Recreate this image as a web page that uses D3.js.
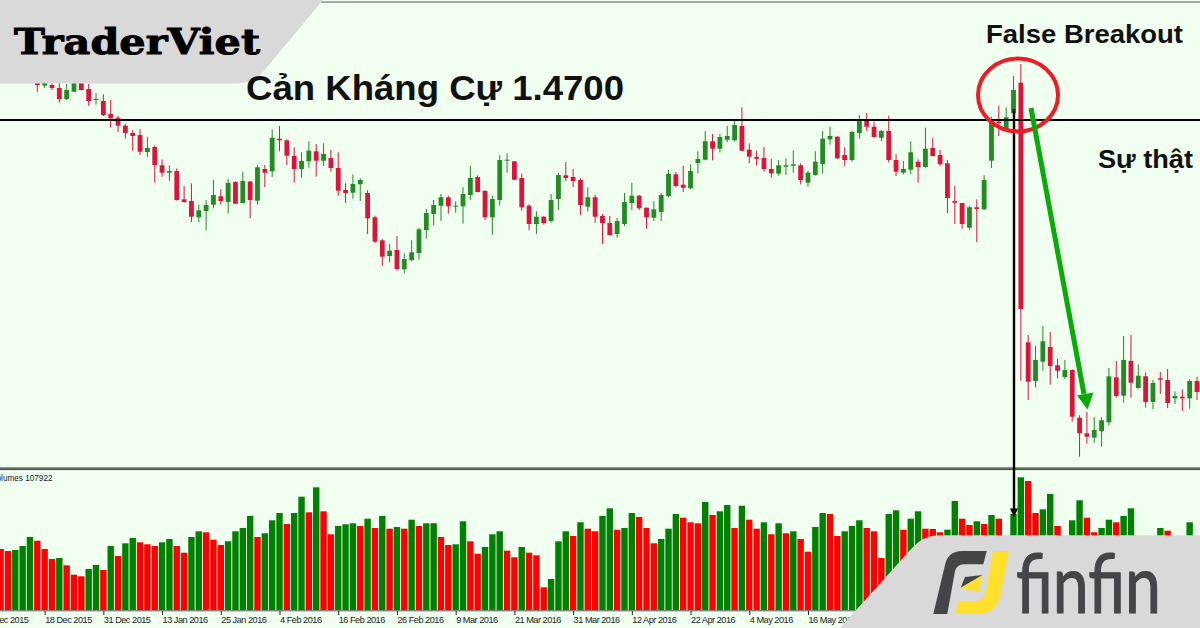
<!DOCTYPE html>
<html>
  <head>
    <meta charset="utf-8" />
    <script src="https://d3js.org/d3.v7.min.js"></script>
    <title>False Breakout</title>
    <style>
      html, body { margin: 0; padding: 0; background: #f0fff0; overflow: hidden; }
      svg { display: block; }
      text { font-family: "Liberation Sans", sans-serif; }
    </style>
  </head>

  <body>
    <svg id="chart" width="1200" height="628"></svg>

    <script>
      // candle prices, oldest first
      const highs = [
        1.510,1.510,1.507,1.507,1.506,1.510,1.510,1.506,1.4967,1.4957,
        1.490,1.474,1.466,1.460,1.4607,1.4533,1.4447,1.4303,1.4247,1.4217,
        1.404,1.4067,1.3853,1.390,1.410,1.4007,1.411,1.4087,1.4183,1.409,
        1.4247,1.425,1.4607,1.464,1.4507,1.4427,1.4377,1.4487,1.446,1.4467,
        1.4403,1.4377,1.4067,1.4157,1.4117,1.3997,1.3743,1.351,1.346,1.354,
        1.3367,1.3497,1.362,1.381,1.390,1.396,1.3943,1.3887,1.4027,1.424,
        1.4147,1.400,1.3943,1.4347,1.4367,1.4287,1.4163,1.3857,1.3787,1.374,
        1.396,1.4173,1.428,1.421,1.4117,1.4027,1.395,1.376,1.374,1.372,
        1.397,1.4073,1.395,1.3827,1.3887,1.397,1.420,1.418,1.424,1.4257,
        1.4387,1.459,1.456,1.456,1.464,1.469,1.4827,1.4467,1.4393,1.443,
        1.431,1.430,1.4317,1.4397,1.4267,1.419,1.4387,1.459,1.4633,1.4537,
        1.4427,1.4593,1.475,1.477,1.4683,1.460,1.4743,1.4357,1.429,1.4487,
        1.4307,1.4623,1.4523,1.440,1.430,1.4043,1.387,1.3843,1.3907,1.4147,
        1.4733,1.4843,1.4827,1.514,1.526,1.255,1.244,1.264,1.258,1.231,
        1.230,1.2207,1.1747,1.178,1.173,1.173,1.222,1.229,1.254,1.255,
        1.2257,1.2177,1.210,1.218,1.221,1.1987,1.2007,1.2107,1.2133
      ];
      const opens = [
        1.508,1.5045,1.505,1.502,1.491,1.4983,1.508,1.501,1.490,1.489,
        1.476,1.4723,1.4643,1.457,1.455,1.438,1.443,1.4247,1.4173,1.419,
        1.3907,1.389,1.3727,1.379,1.3853,1.3937,1.388,1.408,1.387,1.4085,
        1.3893,1.421,1.4187,1.4513,1.4497,1.434,1.421,1.4287,1.4387,1.4293,
        1.432,1.422,1.400,1.3973,1.4057,1.397,1.3727,1.3497,1.334,1.340,
        1.3207,1.330,1.337,1.360,1.376,1.3843,1.3927,1.3837,1.3837,1.395,
        1.413,1.399,1.3727,1.390,1.4293,1.4287,1.412,1.3843,1.366,1.3733,
        1.369,1.391,1.4147,1.413,1.410,1.3833,1.3927,1.374,1.367,1.356,
        1.366,1.387,1.3943,1.3823,1.3723,1.378,1.394,1.4157,1.4053,1.4017,
        1.427,1.4303,1.4487,1.4413,1.4503,1.4497,1.464,1.4403,1.433,1.432,
        1.421,1.4163,1.4233,1.4243,1.4247,1.4073,1.415,1.426,1.4507,1.4533,
        1.435,1.430,1.457,1.4697,1.4633,1.4523,1.459,1.430,1.4173,1.4203,
        1.4283,1.423,1.442,1.435,1.4267,1.389,1.387,1.3623,1.3827,1.3807,
        1.4293,1.4685,1.460,1.4767,1.5073,1.2477,1.209,1.2283,1.243,1.2247,
        1.213,1.220,1.1723,1.1567,1.1523,1.1587,1.1677,1.2127,1.1943,1.229,
        1.202,1.2137,1.188,1.2117,1.210,1.1917,1.1933,1.1917,1.209
      ];
      const closes = [
        1.505,1.508,1.502,1.491,1.500,1.508,1.500,1.489,1.491,1.475,
        1.4717,1.4643,1.457,1.454,1.4383,1.442,1.425,1.4173,1.419,1.390,
        1.388,1.3733,1.3797,1.385,1.395,1.389,1.407,1.3863,1.409,1.390,
        1.4227,1.4173,1.4523,1.4497,1.4343,1.421,1.429,1.4393,1.4293,1.436,
        1.422,1.3993,1.397,1.406,1.410,1.3717,1.3483,1.3333,1.3393,1.321,
        1.331,1.3377,1.3607,1.377,1.385,1.3927,1.3837,1.3843,1.396,1.412,
        1.398,1.3727,1.391,1.430,1.4303,1.4103,1.3827,1.366,1.3733,1.367,
        1.390,1.415,1.412,1.409,1.385,1.3927,1.3733,1.367,1.355,1.369,
        1.388,1.3943,1.3817,1.3727,1.3807,1.395,1.4163,1.404,1.4023,1.419,
        1.431,1.4487,1.4413,1.453,1.454,1.465,1.4393,1.4333,1.4313,1.421,
        1.4167,1.4247,1.4247,1.4257,1.410,1.4173,1.4283,1.4513,1.454,1.4317,
        1.430,1.458,1.4697,1.4633,1.453,1.459,1.430,1.4183,1.421,1.4377,
        1.423,1.4413,1.434,1.4257,1.392,1.3873,1.366,1.3827,1.381,1.410,
        1.4677,1.467,1.4727,1.500,1.281,1.2083,1.230,1.2487,1.224,1.2193,
        1.220,1.1733,1.1567,1.1533,1.160,1.1697,1.2137,1.194,1.230,1.2073,
        1.2143,1.188,1.207,1.2103,1.187,1.194,1.1917,1.209,1.198
      ];
      const lows = [
        1.498,1.502,1.500,1.4873,1.490,1.498,1.4995,1.4843,1.4853,1.474,
        1.4623,1.458,1.4513,1.4393,1.435,1.433,1.4073,1.4133,1.4093,1.3895,
        1.3873,1.368,1.368,1.3597,1.3817,1.3853,1.3763,1.386,1.3867,1.3717,
        1.3853,1.403,1.413,1.4387,1.425,1.4073,1.4123,1.4223,1.4133,1.424,
        1.4183,1.3943,1.387,1.3913,1.389,1.356,1.347,1.324,1.3277,1.3193,
        1.3167,1.3287,1.3303,1.3513,1.3643,1.369,1.3763,1.3773,1.3663,1.390,
        1.3977,1.370,1.3553,1.3843,1.4173,1.4103,1.3793,1.3597,1.356,1.3653,
        1.3673,1.380,1.409,1.403,1.375,1.3787,1.3673,1.346,1.3543,1.3523,
        1.364,1.380,1.380,1.3613,1.369,1.369,1.3927,1.4027,1.398,1.401,
        1.4167,1.4297,1.4297,1.4377,1.4477,1.4487,1.4387,1.4267,1.4243,1.4183,
        1.4123,1.4143,1.415,1.4173,1.4057,1.4033,1.4143,1.4163,1.4453,1.431,
        1.424,1.4283,1.4513,1.459,1.4523,1.4487,1.4277,1.414,1.4157,1.4157,
        1.4073,1.4223,1.4337,1.4243,1.377,1.366,1.3613,1.3603,1.3477,1.380,
        1.422,1.454,1.459,1.475,1.2093,1.190,1.2027,1.2193,1.2053,1.2117,
        1.211,1.1683,1.1333,1.1463,1.1473,1.1433,1.1643,1.1923,1.1873,1.1923,
        1.2013,1.1823,1.1807,1.196,1.182,1.186,1.179,1.1813,1.190
      ];

      // volume panel starts 5 bars before the first visible candle
      const volumes = [
        61,59,60,64,73,
        69.3,61,51,52,44.7,35.3,33.7,41,45,40,
        64,54,66.7,72,67.7,65.7,64,67.7,71,64,
        57.3,73,78.7,77.7,70.3,65,68.7,78.7,82,94,
        73,76.7,89.7,97,86,97,113.3,97.7,122.7,98.7,
        75.7,84,85.7,86.7,84,91.3,82,94,81.3,83,
        81.3,90.3,84,86.7,86.8,73,65,65.7,88.7,68.7,
        56.3,63,75.7,78.7,59.3,52.7,63,57.3,54.7,22.7,
        31,68.7,78.7,74,87.7,81.3,78.7,94,101.7,80.3,
        82,97,93,82,66.7,71,81.3,96,92.3,87.7,
        86.7,108,95,98.7,105,82,104.3,90.3,81.3,87.7,
        75.7,86.7,76.7,78.7,71,58.3,83,97,96,74,
        78.7,84,89.7,82,78.7,52,96,99.7,80.3,91.3,
        98.7,81.3,81,77.7,80.3,109,91.3,85,88.7,86,
        95,91.3,60,96,132.7,129,97,100.7,116,84,
        60,89.7,109.7,92.3,77.7,82,90.3,87.7,94,101.7,
        60,55,50,82,79.3,50,45,87.7,50
      ];

      const tickBars = [-2,6,14,22,30,38,46,54,62,70,78,86,94,102,110];
      const tickLabels = [
        "8 Dec 2015","18 Dec 2015","31 Dec 2015","13 Jan 2016","25 Jan 2016",
        "4 Feb 2016","16 Feb 2016","26 Feb 2016","9 Mar 2016","21 Mar 2016",
        "31 Mar 2016","12 Apr 2016","22 Apr 2016","4 May 2016","16 May 2016"
      ];

      const resistance = 1.47;
      const firstCandleBar = 5;

      const bg = "#f0fff0";
      const upCandle = "#228b22";
      const downCandle = "#dc143c";
      const upVolume = "#008000";
      const downVolume = "#ff0000";
      const bannerGrey = "#d9d9d9";

      var canvas = d3.select("#chart");

      var x = d3.scaleLinear().domain([0, 163]).range([0.6, 1197]);
      var yPrice = d3.scaleLinear().domain([1.59, 1.122]).range([0, 468]);
      var yVolume = d3.scaleLinear().domain([0, 140]).range([610, 470]);

      canvas.append("rect").attr("width", 1200).attr("height", 628).attr("fill", bg);

      // top border of the platform window
      canvas.append("line").attr("x1", 0).attr("x2", 1200).attr("y1", 2).attr("y2", 2)
        .attr("stroke", "#555").attr("stroke-width", 1);

      // candles
      var candle = canvas.append("g").selectAll("g").data(highs).enter().append("g")
        .attr("fill", (d, i) => (closes[i] >= opens[i] ? upCandle : downCandle))
        .attr("stroke", (d, i) => (closes[i] >= opens[i] ? upCandle : downCandle));

      candle.append("line")
        .attr("x1", (d, i) => x(i + firstCandleBar))
        .attr("x2", (d, i) => x(i + firstCandleBar))
        .attr("y1", (d) => yPrice(d))
        .attr("y2", (d, i) => yPrice(lows[i]))
        .attr("stroke-width", 1);

      candle.append("rect")
        .attr("x", (d, i) => x(i + firstCandleBar) - 2.4)
        .attr("width", 4.8)
        .attr("y", (d, i) => yPrice(Math.max(opens[i], closes[i])))
        .attr("height", (d, i) => Math.max(1, yPrice(Math.min(opens[i], closes[i])) - yPrice(Math.max(opens[i], closes[i]))))
        .attr("stroke", "none");

      // resistance line
      canvas.append("line").attr("x1", 0).attr("x2", 1200)
        .attr("y1", yPrice(resistance)).attr("y2", yPrice(resistance))
        .attr("stroke", "#000").attr("stroke-width", 1.8);

      // panel separator
      canvas.append("rect").attr("x", 0).attr("y", 467.6).attr("width", 1200).attr("height", 2.2)
        .attr("fill", "#8a8f8a");
      canvas.append("line").attr("x1", 0).attr("x2", 1200).attr("y1", 468).attr("y2", 468)
        .attr("stroke", "#222").attr("stroke-width", 0.7);
      canvas.append("line").attr("x1", 0).attr("x2", 1200).attr("y1", 469.6).attr("y2", 469.6)
        .attr("stroke", "#222").attr("stroke-width", 0.7);

      // volume bars, green when the bar is above the previous one
      canvas.append("g").selectAll("rect").data(volumes).enter().append("rect")
        .attr("x", (d, i) => x(i) - 3.2)
        .attr("width", 6.4)
        .attr("y", (d) => yVolume(d))
        .attr("height", (d) => yVolume(0) - yVolume(d))
        .attr("fill", (d, i) => (i > 0 && d > volumes[i - 1] ? upVolume : downVolume));

      canvas.append("text").attr("x", 52.5).attr("y", 481).attr("text-anchor", "end")
        .attr("font-size", 8.2).attr("fill", "#222").text("Volumes 107922");

      // time axis
      canvas.append("rect").attr("x", 0).attr("y", 610).attr("width", 1200).attr("height", 1.4)
        .attr("fill", "#808880");

      var xAxis = d3.axisBottom(x)
        .tickValues(tickBars)
        .tickFormat((d, i) => tickLabels[i])
        .tickSize(4)
        .tickPadding(1);

      var axisGroup = canvas.append("g").attr("transform", "translate(0,611)").call(xAxis);
      axisGroup.select(".domain").remove();
      axisGroup.selectAll("line").attr("stroke", "#222");
      axisGroup.selectAll("text")
        .attr("text-anchor", "start")
        .attr("font-size", 9.2)
        .attr("letter-spacing", -0.5)
        .style("font-family", '"Liberation Sans", sans-serif')
        .attr("fill", "#222");

      // breakout markers
      var ann = canvas.append("g");

      ann.append("line").attr("x1", 1014).attr("x2", 1014).attr("y1", 109).attr("y2", 511)
        .attr("stroke", "#000").attr("stroke-width", 2.4);
      ann.append("path").attr("d", "M1010,508.5 L1018,508.5 L1014,517 Z").attr("fill", "#000");

      ann.append("ellipse").attr("cx", 1018).attr("cy", 95).attr("rx", 40).attr("ry", 36.5)
        .attr("fill", "none").attr("stroke", "#ee1c25").attr("stroke-width", 4);

      ann.append("line").attr("x1", 1031).attr("y1", 108).attr("x2", 1084).attr("y2", 394)
        .attr("stroke", "#0aaa0a").attr("stroke-width", 5);
      ann.append("path").attr("d", "M1077,395.5 L1093.5,392.5 L1087.5,409.5 Z").attr("fill", "#0aaa0a");

      // top left banner
      canvas.append("path")
        .attr("d", "M0,0 L323,0 L263,72 Q254,83 237,83.5 L0,83.5 Z")
        .attr("fill", bannerGrey);

      canvas.append("text").attr("x", 14).attr("y", 54)
        .attr("textLength", 246).attr("lengthAdjust", "spacingAndGlyphs")
        .style("font-family", '"DejaVu Serif", serif')
        .attr("font-weight", "bold").attr("font-size", 36)
        .attr("fill", "#000").attr("stroke", "#000").attr("stroke-width", 1)
        .text("TraderViet");

      // labels
      canvas.append("text").attr("x", 246).attr("y", 100).attr("font-size", 35.5)
        .attr("font-weight", "bold").attr("fill", "#111")
        .attr("textLength", 378).attr("lengthAdjust", "spacingAndGlyphs").text("Cản Kháng Cự 1.4700");
      canvas.append("text").attr("x", 986).attr("y", 43.3).attr("font-size", 25.5)
        .attr("font-weight", "bold").attr("fill", "#111")
        .attr("textLength", 197).attr("lengthAdjust", "spacingAndGlyphs").text("False Breakout");
      canvas.append("text").attr("x", 1098).attr("y", 167.7).attr("font-size", 25.5)
        .attr("font-weight", "bold").attr("fill", "#111")
        .attr("textLength", 95).attr("lengthAdjust", "spacingAndGlyphs").text("Sự thật");

      // bottom right logo banner
      canvas.append("path")
        .attr("d", "M840,628 L912,548 Q923,535.5 940,535.3 L1200,535.3 L1200,628 Z")
        .attr("fill", bannerGrey);

      var logo = canvas.append("g");
      logo.append("path")
        .attr("d", "M933.3,614 L945,565 Q948,551 962,551 L986.7,551 L983.3,564.3 L964,564.3 Q957,564.3 955,571 L947.3,614 Z")
        .attr("fill", "#434548");
      logo.append("path").attr("d", "M965,577 L982.7,575 L960.7,587.7 Z").attr("fill", "#434548");
      logo.append("path").attr("d", "M982.7,575 L978.5,592 L960.7,588 Z").attr("fill", "#ffe02a");
      logo.append("path")
        .attr("d", "M993,551 L1009,551 L1000.5,595 Q996,614 978,614 L955.7,614 L958.3,601 L976,601 Q984,601 985.5,593 Z")
        .attr("fill", "#ffe02a");
      logo.append("text").attr("x", 1016).attr("y", 613)
        .attr("textLength", 145).attr("lengthAdjust", "spacingAndGlyphs")
        .style("font-family", "Lato, sans-serif")
        .attr("font-size", 82).attr("fill", "#434548")
        .attr("stroke", "#434548").attr("stroke-width", 1.2).text("finfin");
    </script>
  </body>
</html>
